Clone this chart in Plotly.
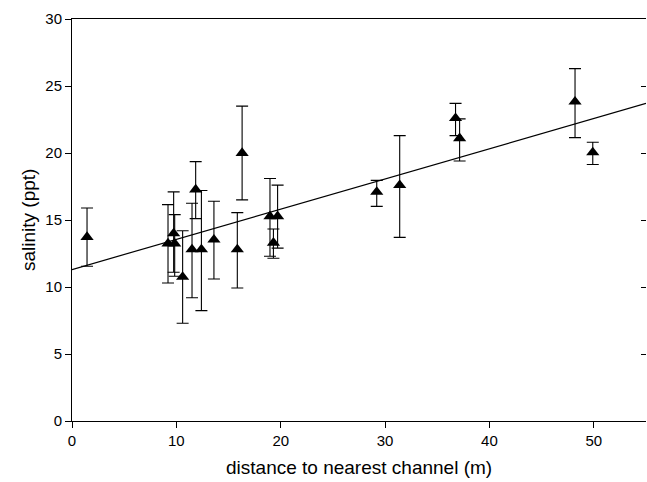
import plotly.graph_objects as go

# Data
distance = [1.44, 9.2, 9.74, 9.84, 10.6, 11.5, 11.85, 12.4, 13.6, 15.84,
            16.3, 18.97, 19.3, 19.7, 29.2, 31.4, 36.75, 37.14, 48.2, 49.9]
salinity = [13.73, 13.24, 14.0, 13.24, 10.75, 12.8, 17.27, 12.8, 13.53, 12.8,
            20.0, 15.28, 13.3, 15.28, 17.09, 17.6, 22.6, 21.1, 23.83, 20.04]
upper = [15.9, 16.15, 17.1, 15.4, 14.2, 16.25, 19.36, 17.2, 16.4, 15.55,
         23.5, 18.1, 14.33, 17.6, 17.96, 21.3, 23.7, 22.55, 26.3, 20.8]
lower = [11.55, 10.3, 11.1, 10.8, 7.3, 9.2, 15.1, 8.24, 10.6, 9.93,
         16.5, 12.3, 12.14, 12.9, 16.02, 13.7, 21.3, 19.4, 21.15, 19.14]

fit_x = [0, 55]
fit_y = [11.3, 23.7]

x_ticks = [0, 10, 20, 30, 40, 50]
y_ticks = [0, 5, 10, 15, 20, 25, 30]

err_plus = [u - s for u, s in zip(upper, salinity)]
err_minus = [s - l for s, l in zip(salinity, lower)]

FONT = "Liberation Sans, Arial, sans-serif"
TEXT = "#000000"

fig = go.Figure()

fig.add_trace(go.Scatter(
    x=fit_x, y=fit_y, mode="lines",
    line=dict(color="black", width=1.2),
    hoverinfo="skip", showlegend=False,
))

fig.add_trace(go.Scatter(
    x=distance, y=salinity, mode="markers",
    marker=dict(symbol="triangle-up", size=11.5, color="black",
                line=dict(width=0)),
    error_y=dict(type="data", symmetric=False, array=err_plus,
                 arrayminus=err_minus, color="black", thickness=1.1, width=6),
    showlegend=False,
))

# invisible trace to anchor right-side inner ticks
fig.add_trace(go.Scatter(
    x=fit_x, y=fit_y, mode="lines", yaxis="y2",
    line=dict(color="rgba(0,0,0,0)", width=0),
    hoverinfo="skip", showlegend=False,
))

fig.update_layout(
    width=647, height=482,
    margin=dict(l=72, r=1, t=19, b=61),
    paper_bgcolor="white", plot_bgcolor="white",
    font=dict(family=FONT, size=15, color=TEXT),
    xaxis=dict(
        range=[0, 55], tickvals=x_ticks, ticktext=[str(v) for v in x_ticks],
        showgrid=False, zeroline=False,
        showline=True, linecolor="black", linewidth=1, mirror=True,
        ticks="outside", ticklen=6, tickwidth=1, tickcolor="black",
        tickfont=dict(family=FONT, size=15, color=TEXT),
    ),
    yaxis=dict(
        range=[0, 30], tickvals=y_ticks, ticktext=[str(v) for v in y_ticks],
        showgrid=False, zeroline=False,
        showline=True, linecolor="black", linewidth=1,
        ticks="outside", ticklen=6, tickwidth=1, tickcolor="black",
        tickfont=dict(family=FONT, size=15, color=TEXT),
    ),
    yaxis2=dict(
        range=[0, 30], tickvals=y_ticks, overlaying="y", side="right",
        showgrid=False, zeroline=False, showline=False,
        ticks="inside", ticklen=5, tickwidth=1, tickcolor="black",
        showticklabels=False,
    ),
    annotations=[
        dict(text="distance to nearest channel (m)", xref="paper", yref="paper",
             x=0.5, y=(421 - 467) / 402, xanchor="center", yanchor="middle",
             showarrow=False, font=dict(family=FONT, size=19, color=TEXT)),
        dict(text="salinity (ppt)", xref="paper", yref="paper",
             x=(28 - 72) / 574, y=0.5, xanchor="center", yanchor="middle",
             textangle=-90, showarrow=False,
             font=dict(family=FONT, size=19, color=TEXT)),
    ],
)

fig.write_html(
    "out.html",
    config={"displayModeBar": False},
    post_script="document.body.style.margin='0px';"
                "document.body.style.overflow='hidden';",
)
